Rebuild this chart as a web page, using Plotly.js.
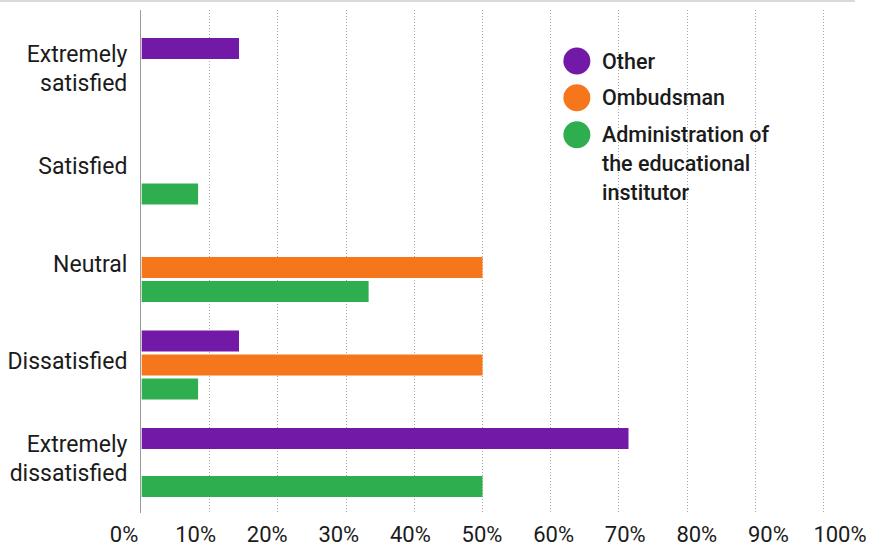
<!DOCTYPE html>
<html>
<head>
<meta charset="utf-8">
<script src="https://cdn.plot.ly/plotly-3.0.1.min.js"></script>
<style>
  html, body { margin: 0; padding: 0; background: #fff; }
  #chart { width: 870px; height: 549px; }
</style>
</head>
<body>
<div id="chart"></div>
<script>
// Satisfaction with how a complaint was handled, by who handled it (% of respondents)
const categories = [
  "Extremely<br>satisfied",
  "Satisfied",
  "Neutral",
  "Dissatisfied",
  "Extremely<br>dissatisfied"
];
const seriesNames = ["Other", "Ombudsman", "Administration of the educational institutor"];
const legendLines = [["Other"], ["Ombudsman"], ["Administration of", "the educational", "institutor"]];
const otherValues = [14.3, null, null, 14.3, 71.4];
const ombudsmanValues = [null, null, 50, 50, null];
const administrationValues = [null, 8.3, 33.3, 8.3, 50];
const seriesColors = ["#7319A7", "#F5761B", "#2EAE4E"];
const tickValues = [0, 10, 20, 30, 40, 50, 60, 70, 80, 90, 100];

const FONT = "Roboto, 'Noto Sans', sans-serif";
const TEXT = "#1b1b1b";

const seriesValues = [otherValues, ombudsmanValues, administrationValues];
const traces = seriesValues.map((vals, i) => ({
  type: "bar",
  orientation: "h",
  name: seriesNames[i],
  x: vals,
  y: categories,
  xaxis: "x",
  yaxis: "y",
  marker: { color: seriesColors[i], line: { width: 0 } },
  showlegend: false,
  hoverinfo: "x+name"
}));

// empty companion trace so the percentage label axis gets its own subplot
traces.push({
  type: "scatter", mode: "markers",
  x: [], y: [],
  xaxis: "x2", yaxis: "y",
  showlegend: false, hoverinfo: "skip"
});

// Legend drawn as large dots with wrapped text
const shapes = [];
const annotations = [];
const dotX = 0.6325, dotRx = 13.5 / 716, dotRy = 13.5 / 503;
const rowY = [0.8986, 0.8257, 0.7521];
const lineStep = 29 / 503;
seriesNames.forEach((n, i) => {
  shapes.push({
    type: "circle", xref: "paper", yref: "paper",
    x0: dotX - dotRx, x1: dotX + dotRx,
    y0: rowY[i] - dotRy, y1: rowY[i] + dotRy,
    fillcolor: seriesColors[i], line: { width: 0 }
  });
  legendLines[i].forEach((txt, k) => {
    annotations.push({
      xref: "paper", yref: "paper",
      x: 0.6643, y: rowY[i] - k * lineStep,
      xanchor: "left", yanchor: "middle",
      text: txt, showarrow: false,
      font: { family: FONT, size: 21.5, color: TEXT, weight: 500 }
    });
  });
});

// thin rule along the top edge
shapes.push({
  type: "line", xref: "paper", yref: "paper",
  x0: -0.1732, x1: 1.0209, y0: 1.018, y1: 1.018,
  line: { color: "#d9d9d9", width: 2 }
});

const layout = {
  width: 870,
  height: 549,
  margin: { l: 124, r: 30, t: 10, b: 36 },
  paper_bgcolor: "#fff",
  plot_bgcolor: "rgba(0,0,0,0)",
  font: { family: FONT, size: 23, color: TEXT },
  barmode: "group",
  bargap: 0.262,
  bargroupgap: 0.125,
  showlegend: false,
  xaxis: {
    domain: [0.0244, 0.9828],
    range: [0, 100.6],
    tickvals: tickValues,
    showticklabels: false,
    ticks: "",
    showgrid: true,
    gridcolor: "#a8a8a8",
    griddash: "1px,2px",
    gridwidth: 1,
    zeroline: false,
    showline: false,
    fixedrange: true
  },
  xaxis2: {
    anchor: "y",
    domain: [0, 1],
    range: [0, 100],
    tickvals: tickValues,
    ticktext: tickValues.map(v => v + "%"),
    ticks: "",
    ticklabelstandoff: 6,
    tickfont: { family: FONT, size: 22, color: TEXT },
    showgrid: false,
    zeroline: false,
    showline: false,
    fixedrange: true
  },
  yaxis: {
    type: "category",
    categoryorder: "array",
    categoryarray: categories,
    range: [4.518, -0.641],
    ticks: "",
    ticklabelstandoff: 8,
    ticklabelshift: 4,
    tickfont: { family: FONT, size: 23, color: TEXT },
    showgrid: false,
    zeroline: false,
    showline: true,
    linecolor: "#9a9a9a",
    linewidth: 1.5,
    fixedrange: true
  },
  shapes: shapes,
  annotations: annotations
};

Plotly.newPlot("chart", traces, layout, { displayModeBar: false, staticPlot: true });
</script>
</body>
</html>
